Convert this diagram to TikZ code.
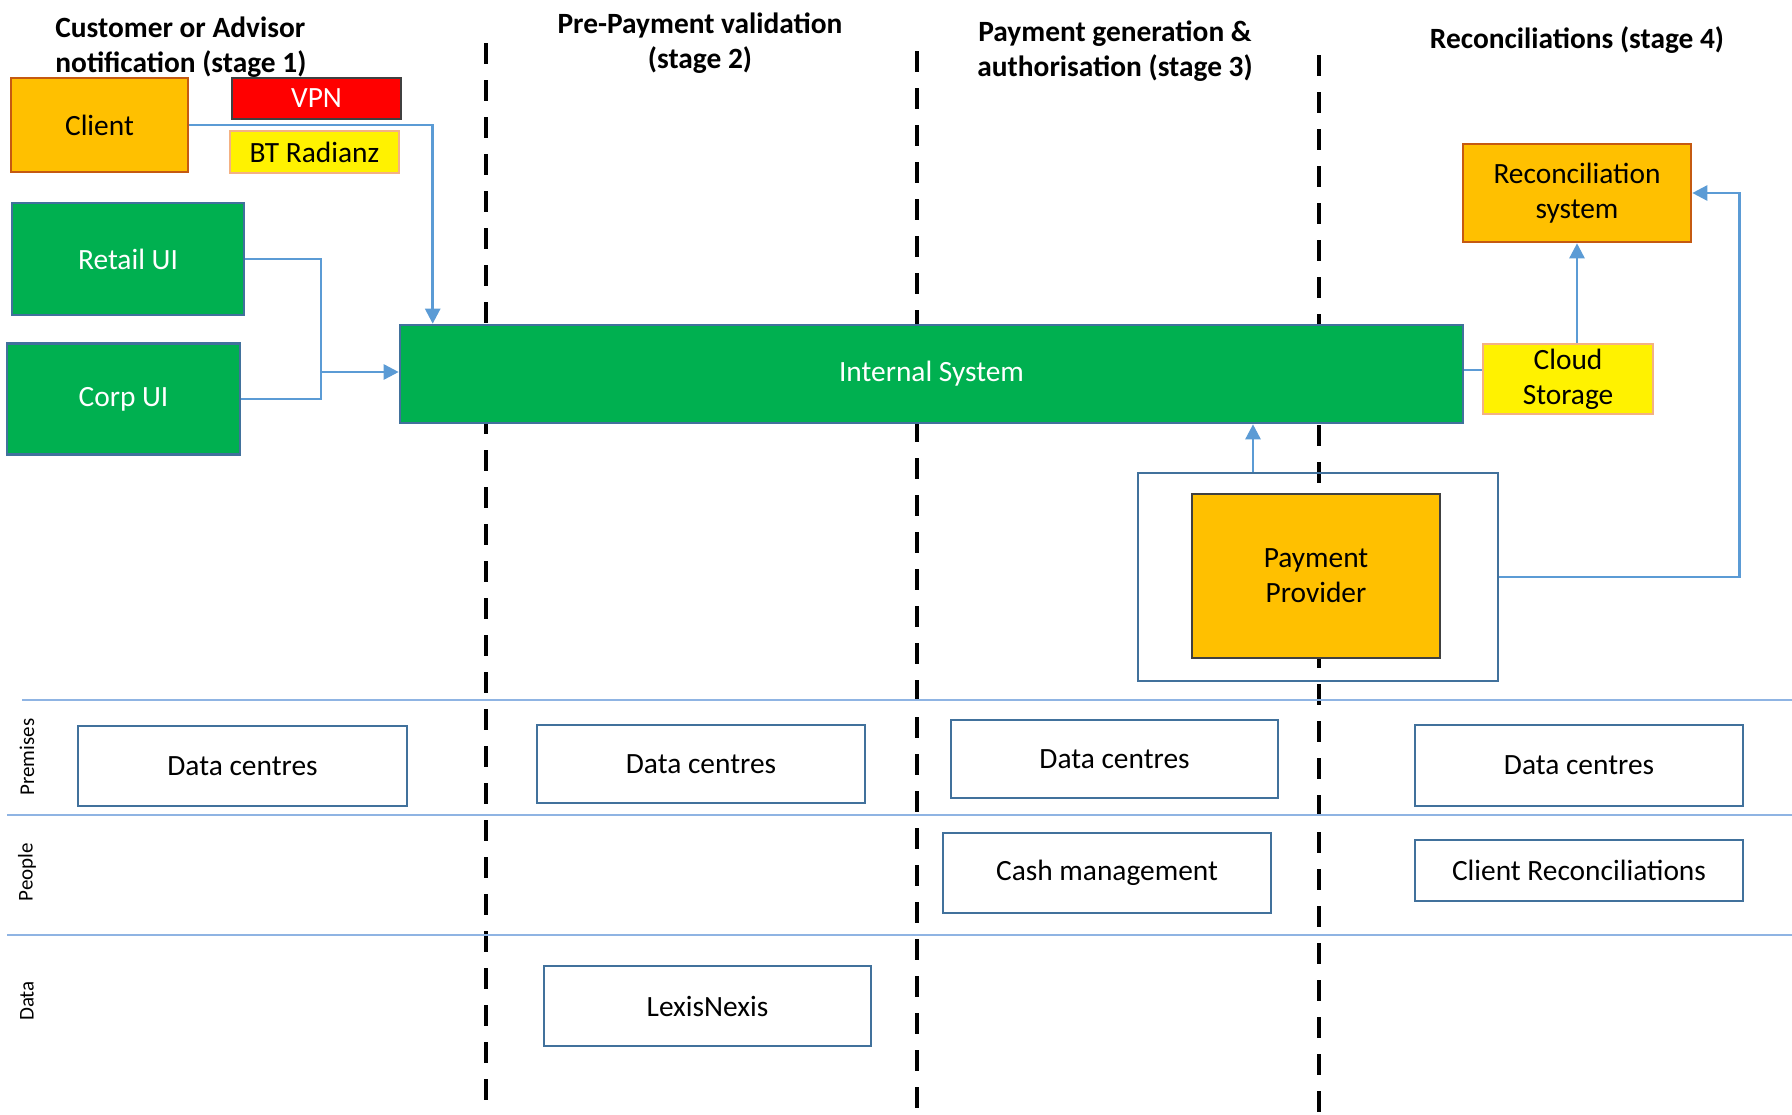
\documentclass[tikz,border=0pt]{standalone}
\usepackage{fontspec}
\setmainfont{Carlito}
\usetikzlibrary{arrows.meta}
\definecolor{boxorange}{RGB}{255,192,0}
\definecolor{edgeorange}{RGB}{197,90,17}
\definecolor{boxgreen}{RGB}{0,176,80}
\definecolor{edgeblue}{RGB}{65,113,156}
\definecolor{flowblue}{RGB}{91,155,213}
\definecolor{lanecolor}{RGB}{143,180,227}
\definecolor{edgepeach}{RGB}{244,177,131}
\definecolor{edgegray}{RGB}{64,64,64}

\tikzset{
  box/.style={draw, line width=1.3pt, rectangle, inner sep=2pt, align=center, font=\fontsize{14.7}{17.5}\selectfont},
  greenbox/.style={box, draw=edgeblue, fill=boxgreen, text=white},
  orangebox/.style={box, draw=edgeorange, fill=boxorange},
  layerbox/.style={box, draw=edgeblue, fill=white},
  flow/.style={draw=flowblue, line width=1.3pt, -{Triangle[width=7.5pt,length=7.5pt]}},
  link/.style={draw=flowblue, line width=1.3pt},
  divider/.style={line width=2.2pt, dash pattern=on 10.5pt off 8pt},
  lane/.style={draw=lanecolor, line width=1pt},
  stagetitle/.style={font=\bfseries\fontsize{14.7}{17.5}\selectfont, align=center, inner sep=0pt},
  lanelabel/.style={rotate=90, font=\fontsize{10.5}{12}\selectfont, inner sep=0pt}
}

\begin{document}
\begin{tikzpicture}[x=0.5pt,y=-0.5pt]
  \useasboundingbox (0,0) rectangle (1792,1114);

  % Stage dividers and lanes
  \draw[divider] (486,43) -- (486,1130);
  \draw[divider] (917,51) -- (917,1130);
  \draw[divider] (1319,55) -- (1319,1130);
  \draw[lane] (22,700) -- (1792,700);
  \draw[lane] (7,815) -- (1792,815);
  \draw[lane] (7,935) -- (1792,935);

  % Stage titles
  \node[stagetitle, align=left, anchor=west] (stage1) at (55,47) {Customer or Advisor\\notification (stage 1)};
  \node[stagetitle] (stage2) at (700,43) {Pre-Payment validation\\(stage 2)};
  \node[stagetitle] (stage3) at (1115,51) {Payment generation \&\\authorisation (stage 3)};
  \node[stagetitle] (stage4) at (1577,40) {Reconciliations (stage 4)};

  % Lane labels
  \node[lanelabel] (premises) at (27,757) {Premises};
  \node[lanelabel] (people) at (27,872) {People};
  \node[lanelabel] (datalane) at (27,1001) {Data};

  % Main components
  \node[orangebox, minimum width=88.5pt, minimum height=47pt] (client) at (99.5,125) {Client};
  \node[box, draw=edgegray, fill=red, text=white, minimum width=84.5pt, minimum height=20.5pt] (vpn) at (316.5,98.5) {VPN};
  \node[box, draw=edgepeach, fill=yellow, minimum width=84.5pt, minimum height=21pt] (radianz) at (314.5,152) {BT Radianz};
  \node[greenbox, minimum width=116pt, minimum height=56pt] (retail) at (128,259) {Retail UI};
  \node[greenbox, minimum width=116.5pt, minimum height=55.5pt] (corp) at (123.5,399) {Corp UI};
  \node[greenbox, minimum width=531.5pt, minimum height=49pt] (intsys) at (931.5,374) {Internal System};
  \node[box, draw=edgepeach, fill=yellow, minimum width=85pt, minimum height=35pt] (cloud) at (1568,379) {Cloud\\Storage};
  \node[orangebox, minimum width=114pt, minimum height=49pt] (recon) at (1577,193) {Reconciliation\\system};
  \node[box, draw=edgeblue, minimum width=180pt, minimum height=104pt] (ppframe) at (1318,577) {};
  \node[orangebox, draw=edgegray, minimum width=124pt, minimum height=82pt] (provider) at (1316,576) {Payment\\Provider};

  % Layer boxes
  \node[layerbox, minimum width=164.5pt, minimum height=40pt] (dc1) at (242.5,766) {Data centres};
  \node[layerbox, minimum width=164pt, minimum height=39pt] (dc2) at (701,764) {Data centres};
  \node[layerbox, minimum width=163.5pt, minimum height=39pt] (dc3) at (1114.5,759) {Data centres};
  \node[layerbox, minimum width=164pt, minimum height=40.5pt] (dc4) at (1579,765.5) {Data centres};
  \node[layerbox, minimum width=164pt, minimum height=40pt] (cash) at (1107,873) {Cash management};
  \node[layerbox, minimum width=164pt, minimum height=30.5pt] (clientrec) at (1579,870.5) {Client Reconciliations};
  \node[layerbox, minimum width=163.5pt, minimum height=40pt] (lexis) at (707.5,1006) {LexisNexis};

  % Connections
  \coordinate (uijoin) at (321,372);
  \draw[flow] (client.east) -| ([xshift=17pt]intsys.north west);
  \draw[link] (retail.east) -| (uijoin);
  \draw[link] (corp.east) -| (uijoin);
  \draw[flow] (uijoin) -- (uijoin -| intsys.west);
  \draw[link] (intsys.east |- 0,370) -- (cloud.west |- 0,370);
  \draw[flow] (recon.south |- cloud.north) -- (recon.south);
  \draw[flow] ([xshift=-32.5pt]ppframe.north) -- ([xshift=-32.5pt]ppframe.north |- intsys.south);
  \draw[flow] (ppframe.east) -- ++(120pt,0) |- (recon.east);
\end{tikzpicture}
\end{document}
